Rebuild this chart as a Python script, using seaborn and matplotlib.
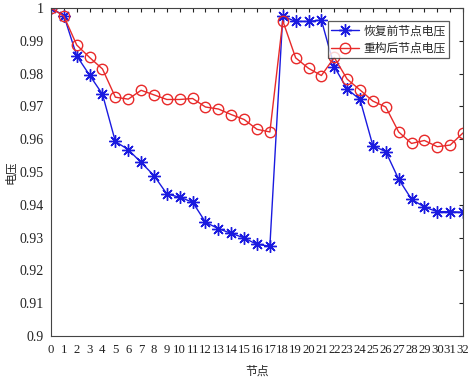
import numpy as np
import pandas as pd
import matplotlib
matplotlib.use("Agg")
import matplotlib.pyplot as plt
import seaborn as sns

nodes = list(range(33))
before = [1.0, 0.9977, 0.9854, 0.9795, 0.9737, 0.9593, 0.9568, 0.9529, 0.9489, 0.9433,
          0.9423, 0.9408, 0.9347, 0.9327, 0.9313, 0.9299, 0.9279, 0.9274, 0.9975, 0.9959,
          0.9959, 0.9963, 0.9821, 0.9753, 0.9721, 0.9580, 0.9562, 0.9478, 0.9417, 0.9393,
          0.9379, 0.9379, 0.9377]
after = [1.0, 0.9975, 0.9887, 0.9849, 0.9814, 0.9728, 0.9722, 0.9749, 0.9735, 0.9721,
         0.9721, 0.9724, 0.9698, 0.9692, 0.9675, 0.9660, 0.9630, 0.9622, 0.9961, 0.9848,
         0.9816, 0.9794, 0.9849, 0.9783, 0.9750, 0.9716, 0.9698, 0.9622, 0.9587, 0.9596,
         0.9577, 0.9582, 0.9619]
series_names = ["恢复前节点电压", "重构后节点电压"]
yticks = [0.9, 0.91, 0.92, 0.93, 0.94, 0.95, 0.96, 0.97, 0.98, 0.99, 1.0]
ytick_labels = ["0.9", "0.91", "0.92", "0.93", "0.94", "0.95", "0.96", "0.97", "0.98", "0.99", "1"]

sns.set_theme(style="white")
plt.rcParams['font.family'] = ['Liberation Serif', 'Noto Sans CJK SC']

df_before = pd.DataFrame({"node": nodes, "v": before})
df_after = pd.DataFrame({"node": nodes, "v": after})

fig = plt.figure(figsize=(4.72, 3.79), dpi=100)
ax = fig.add_axes([0.108, 0.1135, 0.873, 0.8655])

blue = "#1a1ae0"
red = "#e82a2a"
sns.lineplot(data=df_before, x="node", y="v", color=blue, marker=(8, 2, 0),
             markersize=9, linewidth=1.0, markeredgecolor=blue, markeredgewidth=1.0,
             ax=ax, label=series_names[0])
sns.lineplot(data=df_after, x="node", y="v", color=red, marker="o",
             markersize=7.5, linewidth=1.0, markerfacecolor="none", markeredgecolor=red,
             markeredgewidth=1.0, ax=ax, label=series_names[1])

ax.set_xlim(0, 32)
ax.set_ylim(0.9, 1.0)
ax.set_xticks(nodes)
ax.set_xticklabels([str(n) for n in nodes], fontsize=9.2)
ax.set_yticks(yticks)
ax.set_yticklabels(ytick_labels, fontsize=10)
ax.tick_params(direction="in", length=3, width=0.8, top=True, right=True, colors="#222222")
ax.tick_params(axis="x", pad=6)
ax.tick_params(axis="y", pad=5)
for sp in ax.spines.values():
    sp.set_color("#444444")
    sp.set_linewidth(0.8)
    sp.set_visible(True)
ax.set_xlabel("节点", fontsize=8.5, family=['Noto Sans CJK SC'], labelpad=6)
ax.set_ylabel("电压", fontsize=8.5, family=['Noto Sans CJK SC'])
ax.yaxis.set_label_coords(-0.083, 0.5)

leg = ax.legend(loc="upper right", bbox_to_anchor=(0.966, 0.960),
                prop={'family': ['Noto Sans CJK SC'], 'size': 8.5}, frameon=True, fancybox=False,
                edgecolor="#333333", handlelength=2.3, borderpad=0.3, labelspacing=0.35,
                handletextpad=0.4, borderaxespad=0.0)
leg.get_frame().set_linewidth(0.9)

fig.savefig("out.png", dpi=100, facecolor="white")
